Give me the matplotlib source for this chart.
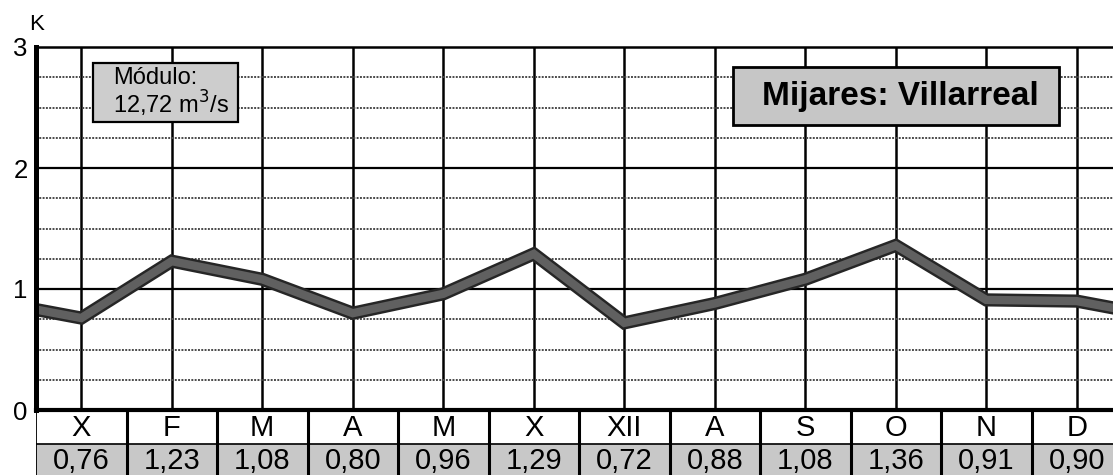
import numpy as np
import matplotlib
matplotlib.use('Agg')
import matplotlib.pyplot as plt
from matplotlib.patches import Rectangle
import matplotlib.patheffects as pe

plt.rcParams['font.family'] = ['Liberation Sans', 'DejaVu Sans']

# data
months = ['X', 'F', 'M', 'A', 'M', 'X', 'XII', 'A', 'S', 'O', 'N', 'D']
k_values = [0.76, 1.23, 1.08, 0.80, 0.96, 1.29, 0.72, 0.88, 1.08, 1.36, 0.91, 0.90]
y_ticks = [0, 1, 2, 3]
modulo_text = 'Módulo:\n12,72 m$^3$/s'
station = 'Mijares: Villarreal'

W, H = 1113, 475
fig = plt.figure(figsize=(W / 100, H / 100), dpi=100)
fig.patch.set_facecolor('white')

def fx(x):
    return x / W

def fy(y):
    return 1 - y / H

# main plot, pixel box: left 36, top 47, bottom 410, column width 90.5
left, top, bot, colw = 36, 47, 410, 90.5
ax = fig.add_axes([fx(left), fy(bot), fx(12 * colw), (bot - top) / H])
ax.set_xlim(-0.5, 11.5)
ax.set_ylim(0, 3)

# grid
for m in range(12):
    ax.axvline(m, color='black', lw=1.8, zorder=1)
for yy in np.arange(0.25, 3, 0.25):
    if yy % 1 == 0:
        ax.axhline(yy, color='black', lw=1.6, zorder=1)
    else:
        ax.axhline(yy, color='#4a4a4a', lw=1.4, ls=(0, (1, 0.7)), zorder=1)

# line (wraps around the year)
xs = np.arange(-1, 13)
ys = [k_values[-1]] + k_values + [k_values[0]]
ax.plot(xs, ys, color='#606060', lw=6, solid_joinstyle='miter', zorder=3,
        path_effects=[pe.Stroke(linewidth=9.5, foreground='#262626'), pe.Normal()])

ax.set_yticks(y_ticks)
ax.set_yticklabels([str(t) for t in y_ticks], fontsize=18.5)
ax.set_xticks([])
ax.tick_params(axis='y', length=0, pad=6)
ax.spines['left'].set_linewidth(3.6)
ax.spines['bottom'].set_linewidth(3.0)
ax.spines['top'].set_linewidth(1.8)
ax.spines['right'].set_visible(False)
ax.spines['bottom'].set_zorder(4)
ax.spines['left'].set_zorder(4)

fig.text(fx(29), fy(24), 'K', fontsize=16, ha='left', va='center')

# boxes
ax.add_patch(Rectangle((fx(93), fy(122)), fx(238 - 93), (122 - 63) / H,
                       transform=fig.transFigure, facecolor='#cdcdcd',
                       edgecolor='black', lw=1.6, zorder=5, clip_on=False))
fig.text(fx(113), fy(93), modulo_text, fontsize=17, ha='left', va='center',
         linespacing=1.0, zorder=6)

ax.add_patch(Rectangle((fx(733), fy(125)), fx(1059 - 733), (125 - 67) / H,
                       transform=fig.transFigure, facecolor='#c6c6c6',
                       edgecolor='black', lw=2.0, zorder=5, clip_on=False))
fig.text(fx(900), fy(97), station, fontsize=24, fontweight='bold',
         ha='center', va='center', zorder=6)

# table below
axt = fig.add_axes([fx(left), fy(478), fx(12 * colw), (478 - bot) / H])
axt.set_xlim(-0.5, 11.5)
axt.set_ylim(2, 0)
axt.axis('off')
axt.axhspan(1, 2, color='#c8c8c8', zorder=0)
axt.axhline(1, color='black', lw=1.2, zorder=2)
for b in np.arange(-0.5, 12, 1):
    axt.axvline(b, color='black', lw=1.3 if b < 0 else 2.2, zorder=2)
for i, (m, v) in enumerate(zip(months, k_values)):
    axt.text(i, 0.52, m, fontsize=21, ha='center', va='center')
    axt.text(i, 1.5, f'{v:.2f}'.replace('.', ','), fontsize=21,
             ha='center', va='center')

fig.savefig('out.png', dpi=100)
